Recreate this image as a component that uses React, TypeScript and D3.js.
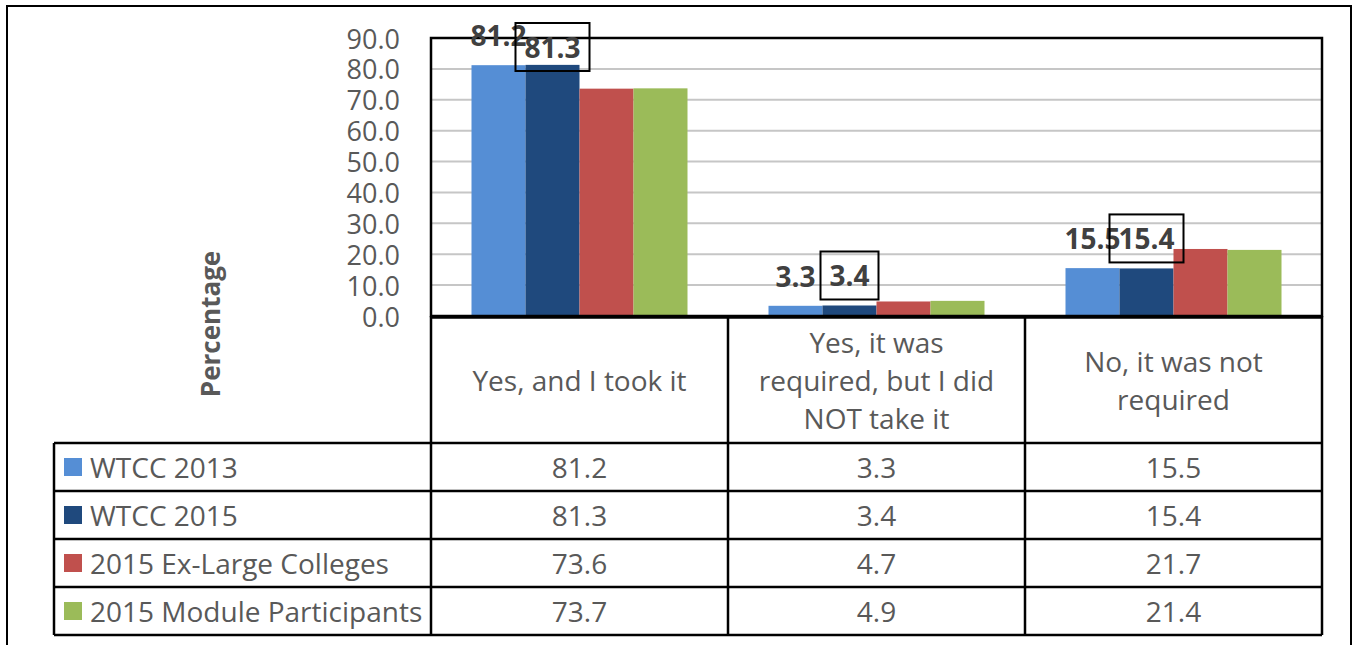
import React from "react";
import * as d3 from "d3";

// Response categories (one header cell per category, wrapped by line)
const categories = [
  "Yes, and I took it",
  "Yes, it was required, but I did NOT take it",
  "No, it was not required",
];
const categoryLines = [
  ["Yes, and I took it"],
  ["Yes, it was", "required, but I did", "NOT take it"],
  ["No, it was not", "required"],
];

const seriesNames = [
  "WTCC 2013",
  "WTCC 2015",
  "2015 Ex-Large Colleges",
  "2015 Module Participants",
];
const wtcc2013 = [81.2, 3.3, 15.5];
const wtcc2015 = [81.3, 3.4, 15.4];
const exLarge2015 = [73.6, 4.7, 21.7];
const module2015 = [73.7, 4.9, 21.4];
const seriesValues = [wtcc2013, wtcc2015, exLarge2015, module2015];
const seriesColors = ["#558ED5", "#1F497D", "#C0504D", "#9BBB59"];

const yTicks = [0, 10, 20, 30, 40, 50, 60, 70, 80, 90];

const W = 1353;
const H = 645;
const plotLeft = 431;
const plotRight = 1322;
const plotTop = 38;
const plotBottom = 316;
const headerBottom = 443;
const rowH = 48;
const legendLeft = 54;

const FONT = "'Open Sans', 'DejaVu Sans', sans-serif";
const TEXT = "#595959";
const LABEL = "#404040";

// width of a bold label, used to size the framed data labels
let measureCtx: CanvasRenderingContext2D | null = null;
function labelWidth(s: string): number {
  if (typeof document !== "undefined") {
    if (!measureCtx) measureCtx = document.createElement("canvas").getContext("2d");
    if (measureCtx) {
      measureCtx.font = `bold 28px ${FONT}`;
      return measureCtx.measureText(s).width;
    }
  }
  return s.length * 14;
}

export default function App() {
  const y = d3.scaleLinear().domain([0, 90]).range([plotBottom, plotTop]);
  const x0 = d3
    .scaleBand<string>()
    .domain(categories)
    .range([plotLeft, plotRight])
    .paddingInner(0)
    .paddingOuter(0);
  const x1 = d3
    .scaleBand<string>()
    .domain(seriesNames)
    .range([0, x0.bandwidth()])
    .paddingInner(0)
    .paddingOuter(0.75);

  const colEdges = [plotLeft, ...categories.map((c) => (x0(c) as number) + x0.bandwidth())];
  const rowEdges = seriesNames.map((_, i) => headerBottom + i * rowH);
  const tableBottom = headerBottom + seriesNames.length * rowH;
  const labelMinY = y(90) + 9;

  return (
    <svg
      width={W}
      height={H}
      style={{ position: "absolute", left: 0, top: 0, background: "#fff" }}
      fontFamily={FONT}
    >
      <rect x={0} y={0} width={W} height={H} fill="#fff" />
      {/* outer frame */}
      <rect x={7} y={6} width={1344} height={680} fill="none" stroke="#000" strokeWidth={2} />

      {/* gridlines */}
      {yTicks
        .filter((t) => t > 0 && t < 90)
        .map((t) => (
          <line
            key={t}
            x1={plotLeft}
            x2={plotRight}
            y1={y(t)}
            y2={y(t)}
            stroke="#C6C6C6"
            strokeWidth={2}
          />
        ))}

      {/* y tick labels */}
      {yTicks.map((t) => (
        <text
          key={t}
          x={400}
          y={y(t)}
          textAnchor="end"
          dominantBaseline="central"
          fontSize={27}
          fill={TEXT}
        >
          {t.toFixed(1)}
        </text>
      ))}

      {/* bars */}
      {seriesValues.map((vals, si) =>
        vals.map((v, ci) => (
          <rect
            key={`${si}-${ci}`}
            x={(x0(categories[ci]) as number) + (x1(seriesNames[si]) as number)}
            y={y(v)}
            width={x1.bandwidth()}
            height={plotBottom - y(v)}
            fill={seriesColors[si]}
          />
        ))
      )}

      {/* plot frame */}
      <rect
        x={plotLeft}
        y={plotTop}
        width={plotRight - plotLeft}
        height={plotBottom - plotTop}
        fill="none"
        stroke="#000"
        strokeWidth={2.5}
      />

      {/* data labels: first two series */}
      {wtcc2013.map((v, ci) => {
        const cx = (x0(categories[ci]) as number) + (x1(seriesNames[0]) as number) + x1.bandwidth() / 2;
        return (
          <text
            key={`l0-${ci}`}
            x={cx}
            y={y(v) - 30}
            textAnchor="middle"
            dominantBaseline="central"
            fontSize={28}
            fontWeight="bold"
            fill={LABEL}
          >
            {v.toFixed(1)}
          </text>
        );
      })}
      {wtcc2015.map((v, ci) => {
        const cx = (x0(categories[ci]) as number) + (x1(seriesNames[1]) as number) + x1.bandwidth() / 2;
        const cy = Math.max(y(v) - 30, labelMinY);
        const label = v.toFixed(1);
        const bw = labelWidth(label) + 18;
        return (
          <g key={`l1-${ci}`}>
            <rect x={cx - bw / 2} y={cy - 24} width={bw} height={48} fill="none" stroke="#000" strokeWidth={2} />
            <text
              x={cx}
              y={cy}
              textAnchor="middle"
              dominantBaseline="central"
              fontSize={28}
              fontWeight="bold"
              fill={LABEL}
            >
              {label}
            </text>
          </g>
        );
      })}

      {/* y axis title */}
      <text
        transform="translate(210,324) rotate(-90)"
        textAnchor="middle"
        dominantBaseline="central"
        fontSize={26}
        fontWeight="bold"
        fill={TEXT}
      >
        Percentage
      </text>

      {/* category header cells */}
      {categoryLines.map((lines, ci) => {
        const cx = (x0(categories[ci]) as number) + x0.bandwidth() / 2;
        const cy = (plotBottom + headerBottom) / 2;
        const lh = 38;
        return lines.map((ln, li) => (
          <text
            key={`c${ci}-${li}`}
            x={cx}
            y={cy + (li - (lines.length - 1) / 2) * lh}
            textAnchor="middle"
            dominantBaseline="central"
            fontSize={28}
            fill={TEXT}
          >
            {ln}
          </text>
        ));
      })}

      {/* data table rows */}
      {seriesNames.map((name, si) => {
        const top = rowEdges[si];
        const cy = top + rowH / 2;
        return (
          <g key={name}>
            <rect x={64} y={cy - 9} width={18} height={18} fill={seriesColors[si]} />
            <text x={90} y={cy} dominantBaseline="central" fontSize={28} fill={TEXT}>
              {name}
            </text>
            {seriesValues[si].map((v, ci) => (
              <text
                key={ci}
                x={(x0(categories[ci]) as number) + x0.bandwidth() / 2}
                y={cy}
                textAnchor="middle"
                dominantBaseline="central"
                fontSize={28}
                fill={TEXT}
              >
                {v.toFixed(1)}
              </text>
            ))}
          </g>
        );
      })}

      {/* table grid */}
      <g stroke="#000" strokeWidth={2.5}>
        {colEdges.map((cx, i) => (
          <line key={`v${i}`} x1={cx} x2={cx} y1={plotBottom} y2={tableBottom} />
        ))}
        <line x1={legendLeft} x2={legendLeft} y1={headerBottom} y2={tableBottom} />
        {[...rowEdges, tableBottom].map((ry, i) => (
          <line key={`h${i}`} x1={legendLeft} x2={plotRight} y1={ry} y2={ry} />
        ))}
        <line x1={plotLeft} x2={plotRight} y1={plotBottom + 1.5} y2={plotBottom + 1.5} />
      </g>
    </svg>
  );
}
